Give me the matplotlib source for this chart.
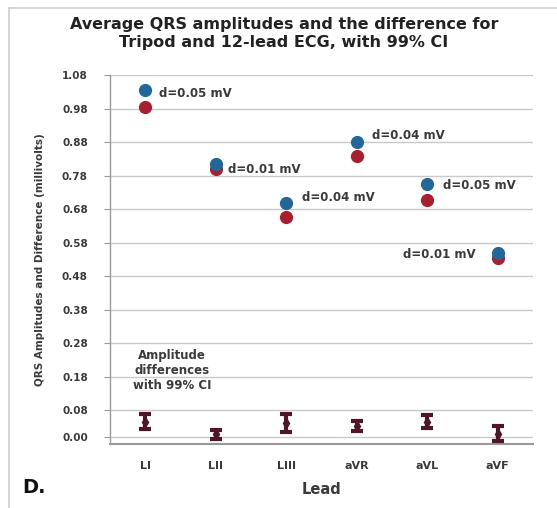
import matplotlib.pyplot as plt
from matplotlib.lines import Line2D

# ── data ──────────────────────────────────────────────────────────────────────
leads = ["LI", "LII", "LIII", "aVR", "aVL", "aVF"]
tripod = [1.035, 0.815, 0.700, 0.880, 0.755, 0.550]
ecg12 = [0.985, 0.800, 0.657, 0.840, 0.708, 0.534]
d_labels = ["d=0.05 mV", "d=0.01 mV", "d=0.04 mV", "d=0.04 mV", "d=0.05 mV", "d=0.01 mV"]

diff_mean = [0.045, 0.010, 0.043, 0.034, 0.046, 0.011]
diff_lo = [0.024, -0.004, 0.016, 0.019, 0.027, -0.011]
diff_hi = [0.069, 0.021, 0.070, 0.048, 0.066, 0.033]

yticks = [0.00, 0.08, 0.18, 0.28, 0.38, 0.48, 0.58, 0.68, 0.78, 0.88, 0.98, 1.08]

BLUE = "#23679a"
RED = "#a8202f"
ERR = "#4e1626"
GRID = "#c8c8c8"
TXT = "#3a3a3a"
FONT = "DejaVu Sans"

fig = plt.figure(figsize=(5.57, 5.08), dpi=100)
fig.patch.set_facecolor("white")
ax = fig.add_axes([0.1975, 0.126, 0.7595, 0.726])

x = list(range(len(leads)))

for yv in yticks:
    ax.axhline(yv, color=GRID, lw=1.0, zorder=0)

ax.plot(x, ecg12, "o", color=RED, ms=8.5, zorder=3)
ax.plot(x, tripod, "o", color=BLUE, ms=8.5, zorder=4)

yerr = [[m - lo for m, lo in zip(diff_mean, diff_lo)],
        [hi - m for m, hi in zip(diff_mean, diff_hi)]]
ax.errorbar(x, diff_mean, yerr=yerr, fmt="d", color=ERR, ms=5,
            ecolor=ERR, elinewidth=3, capsize=4.5, capthick=3, zorder=3)

# d-labels beside the Tripod points
offsets = [(10, -2), (9, -4), (11, 4), (11, 5), (11, -1), (-16, -1)]
for xi, yv, lab, (dx, dy) in zip(x, tripod, d_labels, offsets):
    ax.annotate(lab, (xi, yv), xytext=(dx, dy), textcoords="offset points",
                ha="left" if dx > 0 else "right", va="center",
                fontsize=8.5, fontweight="bold", color=TXT, family=FONT)

ax.text(0.146, 0.198, "Amplitude\ndifferences\nwith 99% CI", ha="center", va="center",
        transform=ax.transAxes,
        fontsize=8.5, fontweight="bold", color=TXT, family=FONT, linespacing=1.2)

ax.set_xlim(-0.5, len(leads) - 0.5)
ax.set_ylim(-0.02, 1.08)
ax.set_xticks(x)
ax.set_xticklabels(leads)
ax.set_yticks(yticks)
ax.set_yticklabels([f"{v:.2f}" for v in yticks])
ax.tick_params(axis="x", length=0, pad=12)
ax.tick_params(axis="y", length=4, color="#999999", pad=12)
for lab in ax.get_xticklabels() + ax.get_yticklabels():
    lab.set_fontweight("bold")
    lab.set_family(FONT)
    lab.set_color(TXT)
for lab in ax.get_xticklabels():
    lab.set_fontsize(8)
for lab in ax.get_yticklabels():
    lab.set_fontsize(7.5)

for s in ("top", "right"):
    ax.spines[s].set_visible(False)
ax.spines["left"].set_color("#999999")
ax.spines["bottom"].set_color("#999999")
ax.spines["left"].set_linewidth(1.0)
ax.spines["bottom"].set_linewidth(1.5)

ax.set_xlabel("Lead", fontsize=10.5, fontweight="bold", color=TXT, family=FONT, labelpad=8)
ax.set_ylabel("QRS Amplitudes and Difference (millivolts)", fontsize=7.5,
              fontweight="bold", color=TXT, family=FONT, labelpad=12)

fig.text(0.51, 0.934, "Average QRS amplitudes and the difference for\nTripod and 12-lead ECG, with 99% CI",
         ha="center", va="center", fontsize=11.5, fontweight="bold", color="#222222",
         family=FONT, linespacing=1.25)
fig.text(0.04, 0.03, "D.", fontsize=14, fontweight="bold", color="#111111", family=FONT)

# light frame around the chart
fig.add_artist(Line2D([0.016, 0.016], [0.0, 0.985], color="#d0d0d0", lw=1.2,
                      transform=fig.transFigure))
fig.add_artist(Line2D([0.016, 1.0], [0.985, 0.985], color="#d0d0d0", lw=1.2,
                      transform=fig.transFigure))

fig.savefig("out.png", dpi=100, facecolor="white")
